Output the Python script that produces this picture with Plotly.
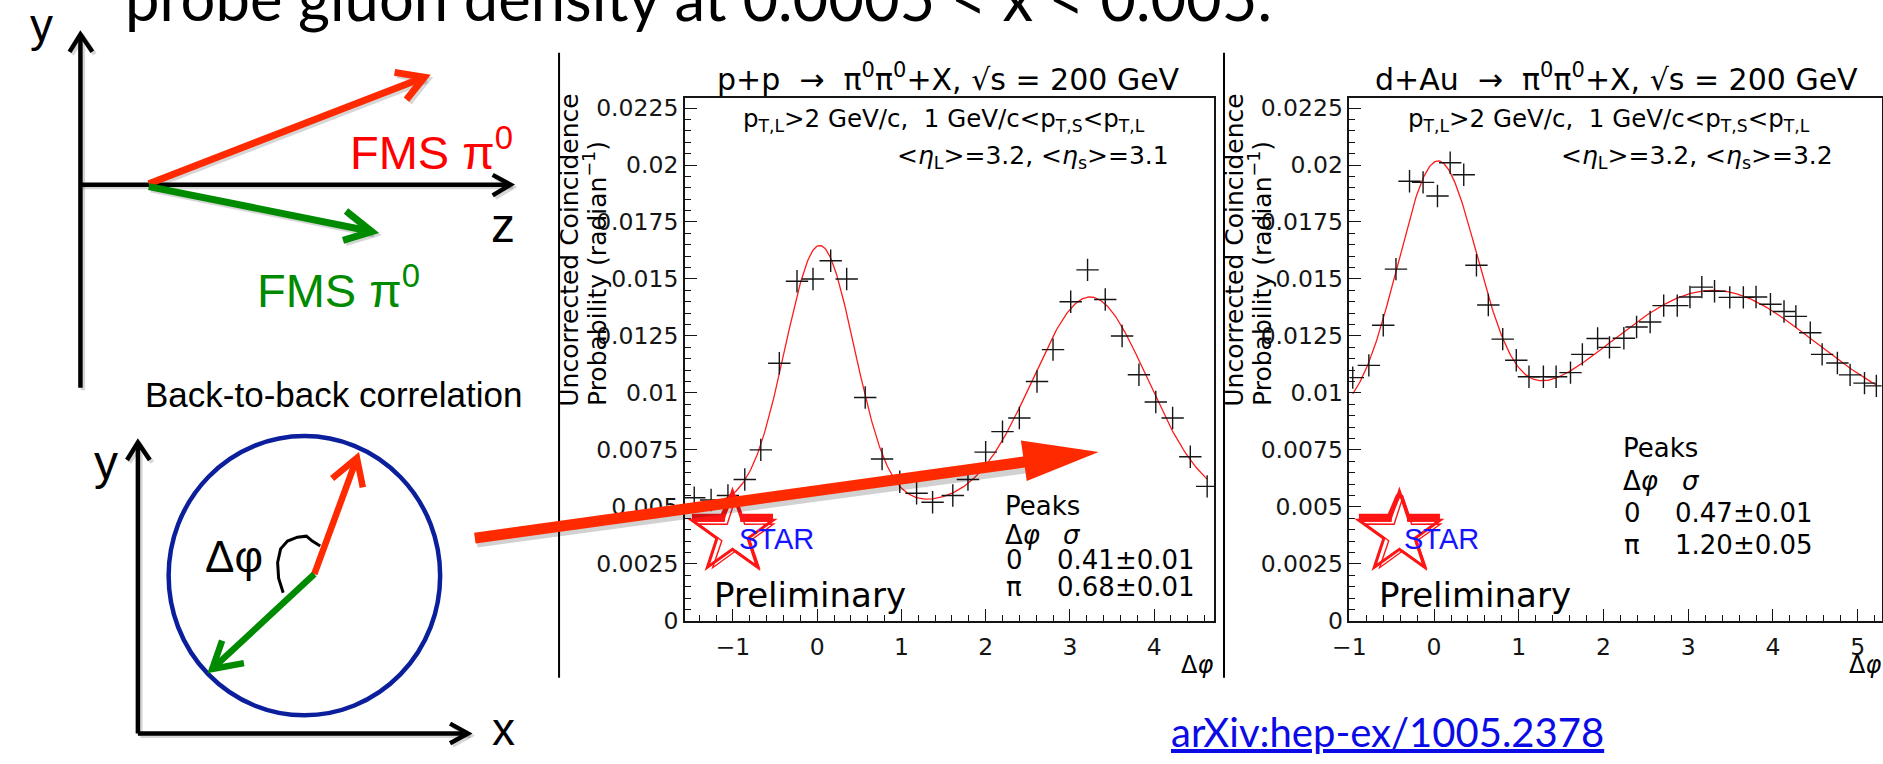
import numpy as np
import plotly.graph_objects as go

W, H = 1883, 764

# p+p -> pi0 pi0 + X : uncorrected coincidence probability per delta-phi bin
pp_dphi = [-1.46, -1.26, -1.06, -0.86, -0.67, -0.45, -0.24, -0.05, 0.16, 0.35,
           0.57, 0.77, 0.98, 1.18, 1.37, 1.61, 1.79, 2.00, 2.20, 2.40,
           2.61, 2.80, 3.01, 3.21, 3.42, 3.62, 3.82, 4.02, 4.22, 4.43, 4.63]
pp_prob = [0.0054, 0.0053, 0.0055, 0.0062, 0.0075, 0.0113, 0.0149, 0.0150, 0.0158, 0.0150,
           0.0098, 0.0071, 0.0061, 0.0056, 0.0052, 0.0055, 0.0062, 0.0074, 0.0083, 0.0089,
           0.0105, 0.0119, 0.0140, 0.0154, 0.0141, 0.0125, 0.0108, 0.0096, 0.0089, 0.0072, 0.0059]

# d+Au -> pi0 pi0 + X
dau_dphi = [-0.96, -0.77, -0.60, -0.45, -0.29, -0.13, 0.04, 0.19, 0.35, 0.50,
            0.64, 0.81, 0.97, 1.12, 1.29, 1.44, 1.61, 1.75, 1.93, 2.07,
            2.24, 2.39, 2.55, 2.71, 2.87, 3.02, 3.16, 3.31, 3.49, 3.65,
            3.80, 3.97, 4.13, 4.27, 4.44, 4.58, 4.76, 4.91, 5.08, 5.22]
dau_prob = [0.01067, 0.01121, 0.01297, 0.01543, 0.01929, 0.01924, 0.01864, 0.02010, 0.01957, 0.01560,
            0.01386, 0.01236, 0.01143, 0.01071, 0.01071, 0.01071, 0.01089, 0.01169, 0.01239, 0.01200,
            0.01240, 0.01289, 0.01311, 0.01383, 0.01383, 0.01421, 0.01464, 0.01446, 0.01419, 0.01419,
            0.01421, 0.01389, 0.01357, 0.01336, 0.01264, 0.01169, 0.01131, 0.01079, 0.01043, 0.01031]

# fit: pedestal + gaussian near-side (0) and away-side (pi) peaks
pp_pedestal = 0.00509
pp_amp = [0.01138, 0.00912]
pp_mean = [0.03, 3.24]
pp_sigma = [0.41, 0.68]
pp_sigma_err = [0.01, 0.01]

dau_pedestal = 0.00878
dau_amp = [0.01125, 0.00572]
dau_mean = [0.04, 3.29]
dau_sigma = [0.47, 1.20]
dau_sigma_err = [0.01, 0.05]

peak_names = ["0", "π"]

y_tick_vals = [0, 0.0025, 0.005, 0.0075, 0.01, 0.0125, 0.015, 0.0175, 0.02, 0.0225]
y_tick_text = ["0", "0.0025", "0.005", "0.0075", "0.01", "0.0125", "0.015", "0.0175", "0.02", "0.0225"]
pp_x_ticks = [-1, 0, 1, 2, 3, 4]
dau_x_ticks = [-1, 0, 1, 2, 3, 4, 5]


def fx(px):
    return px / W


def fy(py):
    return 1 - py / H


def fit_curve(xs, pedestal, amp, mean, sigma):
    x = np.linspace(min(xs), max(xs), 500)
    y = pedestal + sum(a * np.exp(-(x - m) ** 2 / (2 * s ** 2)) for a, m, s in zip(amp, mean, sigma))
    return x, y


ROOT_FONT = "DejaVu Sans"
SLIDE_FONT = "Liberation Sans"
INK = "#151515"

fig = go.Figure()

for xs, ys, ped, amp, mean, sig, xa, ya in [
    (pp_dphi, pp_prob, pp_pedestal, pp_amp, pp_mean, pp_sigma, "x", "y"),
    (dau_dphi, dau_prob, dau_pedestal, dau_amp, dau_mean, dau_sigma, "x2", "y2"),
]:
    cx, cy = fit_curve(xs, ped, amp, mean, sig)
    fig.add_trace(go.Scatter(x=cx, y=cy, mode="lines", xaxis=xa, yaxis=ya,
                             line=dict(color="#ff1a1a", width=1.3), hoverinfo="skip"))
    fig.add_trace(go.Scatter(x=xs, y=ys, mode="markers", xaxis=xa, yaxis=ya,
                             marker=dict(symbol="cross-thin", size=16,
                                         line=dict(color=INK, width=1.4))))

axis_common = dict(showline=True, linecolor=INK, linewidth=1.6, mirror=True,
                   ticks="inside", ticklen=12, tickwidth=1.3, tickcolor=INK,
                   showgrid=False, zeroline=False, fixedrange=True,
                   tickfont=dict(family=ROOT_FONT, size=23.5, color=INK))

ydom = [fy(631.7), fy(96.5)]
yrange = [0, 0.02293]

fig.update_layout(
    width=W, height=H, margin=dict(l=0, r=0, t=0, b=0),
    paper_bgcolor="white", plot_bgcolor="white", showlegend=False,
    xaxis=dict(axis_common, domain=[fx(674), fx(1208)], range=[-np.pi / 2, 3 * np.pi / 2],
               tickvals=pp_x_ticks, ticktext=[str(v).replace("-", "−") for v in pp_x_ticks],
               ticklabelstandoff=4,
               minor=dict(ticks="inside", ticklen=6, tickwidth=1.1, tickcolor=INK,
                          tickmode="linear", tick0=0, dtick=0.2, showgrid=False)),
    yaxis=dict(axis_common, domain=ydom, range=yrange,
               tickvals=y_tick_vals, ticktext=y_tick_text,
               minor=dict(ticks="inside", ticklen=6, tickwidth=1.1, tickcolor=INK,
                          tickmode="linear", tick0=0, dtick=0.0005, showgrid=False)),
    xaxis2=dict(axis_common, domain=[fx(1344.5), fx(1881.7)], range=[-1, -1 + 2 * np.pi],
                anchor="y2",
                tickvals=dau_x_ticks, ticktext=[str(v).replace("-", "−") for v in dau_x_ticks],
                ticklabelstandoff=4,
                minor=dict(ticks="inside", ticklen=6, tickwidth=1.1, tickcolor=INK,
                           tickmode="linear", tick0=0, dtick=0.2, showgrid=False)),
    yaxis2=dict(axis_common, domain=ydom, range=yrange, anchor="x2",
                tickvals=y_tick_vals, ticktext=y_tick_text,
                minor=dict(ticks="inside", ticklen=6, tickwidth=1.1, tickcolor=INK,
                           tickmode="linear", tick0=0, dtick=0.0005, showgrid=False)),
)

# ---------------------------------------------------------------- shapes
shapes = []


def seg(x0, y0, x1, y1, color, width):
    return dict(type="line", xref="paper", yref="paper", layer="above",
                x0=fx(x0), y0=fy(y0), x1=fx(x1), y1=fy(y1),
                line=dict(color=color, width=width))


def poly(points, color, width, fill=None, closed=False):
    d = "M " + " L ".join(f"{fx(x):.6f},{fy(y):.6f}" for x, y in points)
    if closed:
        d += " Z"
    s = dict(type="path", xref="paper", yref="paper", layer="above", path=d,
             line=dict(color=color, width=width))
    if fill:
        s["fillcolor"] = fill
    return s


def arrow(tail, tip, barb1, barb2, color, width, shadow=True):
    out = []
    if shadow:
        off = 2.5
        sh = "rgba(0,0,0,0.16)"
        out.append(seg(tail[0] + off, tail[1] + off, tip[0] + off, tip[1] + off, sh, width))
        out.append(poly([(barb1[0] + off, barb1[1] + off), (tip[0] + off, tip[1] + off),
                         (barb2[0] + off, barb2[1] + off)], sh, width))
    out.append(seg(tail[0], tail[1], tip[0], tip[1], color, width))
    out.append(poly([barb1, tip, barb2], color, width))
    return out


RED = "#ff2a00"
GREEN = "#008a00"
BLACK = "#000000"

# borders of the two embedded plot pictures
shapes.append(seg(547, 50, 547, 690, BLACK, 2))
shapes.append(seg(1218, 50, 1218, 690, BLACK, 2))

# top-left sketch: y/z axes with two forward pi0 arrows
shapes += arrow((64, 393), (64, 31), (53, 49), (76, 49), BLACK, 4.5)
shapes += arrow((64, 185), (498, 185), (480, 175), (480, 196), BLACK, 4.5)
shapes += arrow((133, 184), (411, 75), (381, 70), (393, 98), RED, 7)
shapes += arrow((133, 187), (358, 233), (332, 212), (329, 242), GREEN, 7)

# bottom-left sketch: transverse plane with back-to-back pair
shapes += arrow((122, 747), (122, 449), (111, 467), (134, 467), BLACK, 4.5)
shapes += arrow((122, 747), (455, 747), (437, 737), (437, 757), BLACK, 4.5)
shapes.append(dict(type="circle", xref="paper", yref="paper", layer="above",
                   x0=fx(153), x1=fx(427), y0=fy(728.5), y1=fy(442.5),
                   line=dict(color="#0b1f9c", width=4.5)))
shapes += arrow((300, 584), (343, 465), (318, 486), (349, 495), RED, 6.5, shadow=False)
shapes += arrow((300, 584), (197, 681), (207, 652), (229, 675), GREEN, 6.5, shadow=False)
shapes.append(poly([(268.6, 603), (264, 588), (263, 572), (266, 558), (273, 550),
                    (283, 546), (292, 545), (298, 550), (306, 555)], BLACK, 3))


# STAR logos
def star_points(cx, cy, r_out, r_in):
    pts = []
    for k in range(10):
        ang = np.pi / 2 + k * np.pi / 5
        r = r_out if k % 2 == 0 else r_in
        pts.append((cx + r * np.cos(ang), cy - r * np.sin(ang)))
    return pts


STAR_RED = "#ff1414"
for scx in (722, 1395):
    pts = star_points(scx, 542, 43, 16.5)
    shapes.append(poly(star_points(scx + 3.5, 545, 40, 15), STAR_RED, 1.4, closed=True))
    shapes.append(poly(pts, STAR_RED, 3, closed=True))
    # heavy strokes on the upper arms
    shapes.append(seg(pts[2][0], pts[2][1] - 2.5, pts[1][0] + 2, pts[1][1] - 2.5, STAR_RED, 8))
    shapes.append(seg(pts[9][0] - 2, pts[9][1] - 2.5, pts[8][0], pts[8][1] - 2.5, STAR_RED, 8))
    shapes.append(seg(pts[0][0] - 1, pts[0][1] + 4, pts[1][0] - 2, pts[1][1], STAR_RED, 5))
    shapes.append(seg(pts[0][0] + 2, pts[0][1] + 4, pts[9][0] + 1, pts[9][1], STAR_RED, 3))

# big arrow from the sketch into the p+p panel
shapes.append(seg(464, 551, 1040, 472, "rgba(0,0,0,0.18)", 11))
shapes.append(seg(462, 547, 1038, 466, RED, 11))
shapes.append(poly([(1016, 450), (1082, 460), (1021, 485)], RED, 5, fill=RED, closed=True))

fig.update_layout(shapes=shapes)

# ---------------------------------------------------------------- text
ann = []


def label(text, x, y, size, color=BLACK, family=ROOT_FONT, xanchor="left",
          yanchor="middle", angle=0):
    ann.append(dict(text=text, x=fx(x), y=fy(y), xref="paper", yref="paper",
                    showarrow=False, xanchor=xanchor, yanchor=yanchor, textangle=angle,
                    borderpad=0, font=dict(family=family, size=size, color=color)))


# slide heading (first line runs off the top)
label("probe gluon density at 0.0005 &lt; x &lt; 0.005.", 108, -7.0, 61.5,
      family="Lato", yanchor="middle")

# sketch labels
label("y", 25, 22, 46, family=SLIDE_FONT, xanchor="center")
label("FMS π<sup>0</sup>", 335, 148, 47, color="#ff0000", family=SLIDE_FONT)
label("z", 490, 227, 48, family=SLIDE_FONT, xanchor="center")
label("FMS π<sup>0</sup>", 241, 290, 47, color=GREEN, family=SLIDE_FONT)
label("Back-to-back correlation", 128, 400, 35, family=SLIDE_FONT)
label("y", 89.5, 470, 48, family=SLIDE_FONT, xanchor="center")
label("x", 490.5, 743, 46, family=SLIDE_FONT, xanchor="center")
label("Δφ", 189, 566, 44, family=SLIDE_FONT)

# reference link
label("<u>arXiv:hep-ex/1005.2378</u>", 1163, 746, 40, color="#0b0be6", family="Lato")

# panel texts
panels = [
    dict(dx=0, title="p+p  →  π<sup>0</sup>π<sup>0</sup>+X, √s = 200 GeV", title_x=940,
         eta="&lt;<i>η</i><sub>L</sub>&gt;=3.2, &lt;<i>η</i><sub>s</sub>&gt;=3.1",
         sigma=pp_sigma, err=pp_sigma_err, peaks_y=[514, 544, 569, 597],
         col2=1048, xright=1208, peaks_x=996),
    dict(dx=671, title="d+Au  →  π<sup>0</sup>π<sup>0</sup>+X, √s = 200 GeV", title_x=1614,
         eta="&lt;<i>η</i><sub>L</sub>&gt;=3.2, &lt;<i>η</i><sub>s</sub>&gt;=3.2",
         sigma=dau_sigma, err=dau_sigma_err, peaks_y=[455, 489, 521, 554],
         col2=1672, xright=1882, peaks_x=1620),
]

for p in panels:
    dx = p["dx"]
    label(p["title"], p["title_x"], 75, 30, xanchor="center")
    label("p<sub>T,L</sub>&gt;2 GeV/c,  1 GeV/c&lt;p<sub>T,S</sub>&lt;p<sub>T,L</sub>",
          935 + dx, 119, 24.5, xanchor="center")
    label(p["eta"], 1163 + dx, 157, 25, xanchor="right")
    label("Uncorrected Coincidence", 558 + dx, 413, 25, xanchor="center",
          yanchor="bottom", angle=-90)
    label("Probability (radian<sup>−1</sup>)", 584.5 + dx, 413, 25, xanchor="center",
          yanchor="bottom", angle=-90)
    label("Δ<i>φ</i>", p["xright"], 677, 24, xanchor="right")
    label("STAR", 728 + dx, 548, 29, color="#1414ff", family=SLIDE_FONT)
    label("Preliminary", 702 + dx, 605, 34)
    py = p["peaks_y"]
    px0 = p["peaks_x"]
    label("Peaks", px0, py[0], 26)
    label("Δ<i>φ</i>", px0, py[1], 26)
    label("<i>σ</i>", p["col2"] + 7, py[1], 26)
    for k, name in enumerate(peak_names):
        label(name, px0 + 1, py[2 + k], 26)
        label(f"{p['sigma'][k]:.2f}±{p['err'][k]:.2f}", p["col2"], py[2 + k], 26)

fig.update_layout(annotations=ann)

fig.write_html(
    "out.html",
    config={"displayModeBar": False},
    post_script="document.body.style.margin='0';document.body.style.padding='0';",
)
